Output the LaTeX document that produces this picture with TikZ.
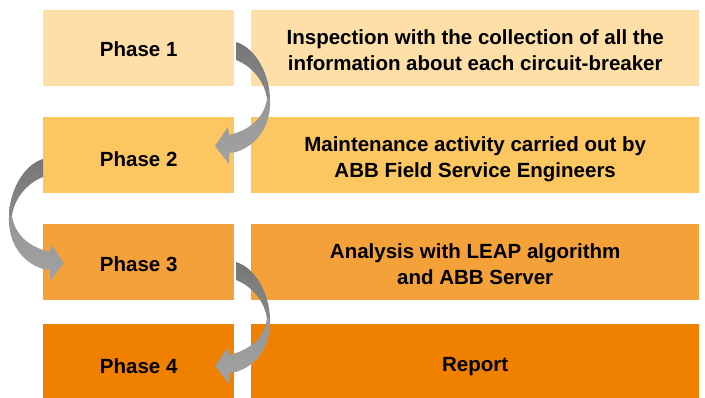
\documentclass[tikz,border=0pt]{standalone}
\usepackage{fontspec}
\setmainfont{Liberation Sans}
\definecolor{rowA}{RGB}{253,223,167}
\definecolor{rowB}{RGB}{252,198,97}
\definecolor{rowC}{RGB}{245,161,57}
\definecolor{rowD}{RGB}{240,128,0}
\definecolor{arrDarkTop}{RGB}{118,118,118}
\definecolor{arrDarkBot}{RGB}{138,138,138}
\definecolor{arrLightTop}{RGB}{150,150,150}
\definecolor{arrLightBot}{RGB}{162,162,162}
\newcommand\ribarrow{%
  \shade[top color=arrDarkTop, bottom color=arrDarkBot]
    (0,0) .. controls (20,6) and (34,33) .. (34,58)
    -- (31,57) .. controls (29,40) and (16,24) .. (0,18) -- cycle;
  \shade[top color=arrLightTop, bottom color=arrLightBot]
    (34,58) .. controls (35,83) and (22,103) .. (0,110)
    -- (-7,111) -- (-7,122) -- (-21,104) -- (-8,85) -- (-7,93)
    .. controls (14,88) and (28,76) .. (31,57) -- cycle;
}
\begin{document}
\begin{tikzpicture}[x=1pt,y=-1pt,
  box/.style={anchor=north west, inner sep=0pt, minimum height=76pt},
  leftbox/.style={box, minimum width=191pt},
  rightbox/.style={box, minimum width=448pt},
  lbl/.style={inner sep=0pt, align=center, text=black,
    font=\bfseries\fontsize{20.5}{25.5}\selectfont}]
\clip (0,0) rectangle (705,397);
\node[leftbox, fill=rowA] (p1) at (43,10) {};
\node[rightbox, fill=rowA] (d1) at (251,10) {};
\node[leftbox, fill=rowB] (p2) at (43,117) {};
\node[rightbox, fill=rowB] (d2) at (251,117) {};
\node[leftbox, fill=rowC] (p3) at (43,224) {};
\node[rightbox, fill=rowC] (d3) at (251,224) {};
\node[leftbox, fill=rowD] (p4) at (43,324) {};
\node[rightbox, fill=rowD] (d4) at (251,324) {};
\node[lbl] (tp1) at ([yshift=-1pt]p1.center) {Phase 1};
\node[lbl] (td1) at ([yshift=-2pt]d1.center) {Inspection with the collection of all the\\information about each circuit-breaker};
\node[lbl] (tp2) at ([yshift=-4pt]p2.center) {Phase 2};
\node[lbl] (td2) at ([yshift=-4pt]d2.center) {Maintenance activity carried out by\\ABB Field Service Engineers};
\node[lbl] (tp3) at ([yshift=-2pt]p3.center) {Phase 3};
\node[lbl] (td3) at ([yshift=-2pt]d3.center) {Analysis with LEAP algorithm\\and ABB Server};
\node[lbl] (tp4) at ([yshift=-4pt]p4.center) {Phase 4};
\node[lbl] (td4) at ([yshift=-4pt]d4.center) {Report};
\begin{scope}[shift={(236,42)}]\ribarrow\end{scope}
\begin{scope}[shift={(43,159)}, xscale=-1]\ribarrow\end{scope}
\begin{scope}[shift={(236,262)}]\ribarrow\end{scope}
\end{tikzpicture}
\end{document}
